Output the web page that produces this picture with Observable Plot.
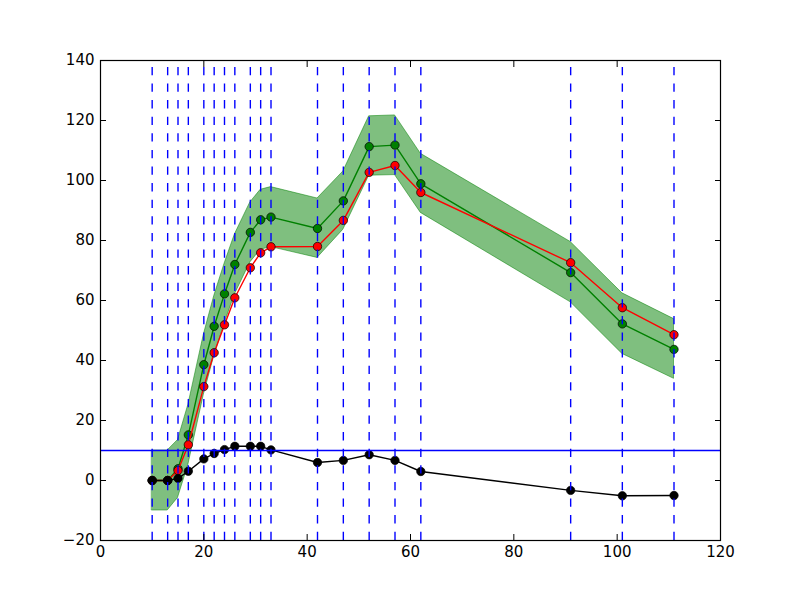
<!DOCTYPE html>
<html>
<head>
<meta charset="utf-8">
<script src="https://cdn.jsdelivr.net/npm/d3@7"></script>
<script src="https://cdn.jsdelivr.net/npm/@observablehq/plot@0.6"></script>
<style>
  body { margin: 0; background: white; }
</style>
</head>
<body>
<div id="chart"></div>
<script>
// x positions of the samples (also where the dashed lines go)
const xs = [10, 13, 15, 17, 20, 22, 24, 26, 29, 31, 33, 42, 47, 52, 57, 62, 91, 101, 111];
const green = [0, 0, 3.9, 15.2, 38.6, 51.4, 62.2, 72.0, 82.7, 86.9, 87.8, 84.0, 93.2, 111.3, 111.8, 98.9, 69.3, 52.2, 43.7];
const red = [0, 0, 3.3, 11.9, 31.3, 42.6, 51.9, 60.9, 70.9, 75.9, 77.9, 78.0, 86.7, 102.7, 105.0, 96.0, 72.6, 57.6, 48.6];
const black = [0, 0, 0.7, 3.1, 7.2, 9.0, 10.3, 11.4, 11.4, 11.4, 10.2, 6.0, 6.7, 8.6, 6.7, 3.0, -3.3, -5.1, -5.0];
// band around the green series
const upper = [10, 10, 13.5, 25.2, 48.6, 61.4, 72.2, 82.0, 92.7, 96.9, 97.8, 94.0, 103.0, 121.4, 121.7, 108.9, 79.5, 62.4, 53.8];
const lower = [-10, -10, -5.8, 5.2, 28.6, 41.4, 52.2, 62.0, 72.7, 76.9, 77.8, 74.2, 83.6, 101.6, 101.8, 89.2, 59.4, 42.2, 33.9];
const hline = [10];
const xTicks = [0, 20, 40, 60, 80, 100, 120];
const yTicks = [-20, 0, 20, 40, 60, 80, 100, 120, 140];

const rows = xs.map((x, i) => ({x, green: green[i], red: red[i], black: black[i], upper: upper[i], lower: lower[i]}));

const lw = 1.39;

function series(key, color) {
  return [
    Plot.line(rows, {x: "x", y: key, stroke: color, strokeWidth: lw}),
    Plot.dot(rows, {x: "x", y: key, r: 4.2, fill: color, stroke: "black", strokeWidth: 0.7})
  ];
}

const chart = Plot.plot({
  width: 800,
  height: 600,
  marginLeft: 100,
  marginRight: 80,
  marginTop: 60,
  marginBottom: 60,
  x: {domain: [0, 120]},
  y: {domain: [-20, 140]},
  style: {
    background: "white",
    fontFamily: "DejaVu Sans",
    fontSize: "15px",
    color: "black",
    overflow: "visible"
  },
  marks: [
    Plot.areaY(rows, {x: "x", y1: "lower", y2: "upper", fill: "green", fillOpacity: 0.5, stroke: "green", strokeOpacity: 0.5, strokeWidth: 1}),
    ...series("green", "green"),
    ...series("red", "red"),
    ...series("black", "black"),
    Plot.ruleY(hline, {stroke: "blue", strokeWidth: lw}),
    Plot.ruleX(xs, {x: d => d, y1: -20, y2: 140, stroke: "blue", strokeWidth: lw, strokeDasharray: "8.3,8.3"}),
    Plot.frame({stroke: "black", strokeWidth: 1.2}),
    Plot.axisX(xTicks, {anchor: "bottom", tickSize: -6, tickPadding: 12, label: null}),
    Plot.axisX(xTicks, {anchor: "top", tickSize: -6, tickFormat: () => "", label: null}),
    Plot.axisY(yTicks, {anchor: "left", tickSize: -6, tickPadding: 12, label: null}),
    Plot.axisY(yTicks, {anchor: "right", tickSize: -6, tickFormat: () => "", label: null})
  ]
});

document.getElementById("chart").append(chart);
</script>
</body>
</html>
